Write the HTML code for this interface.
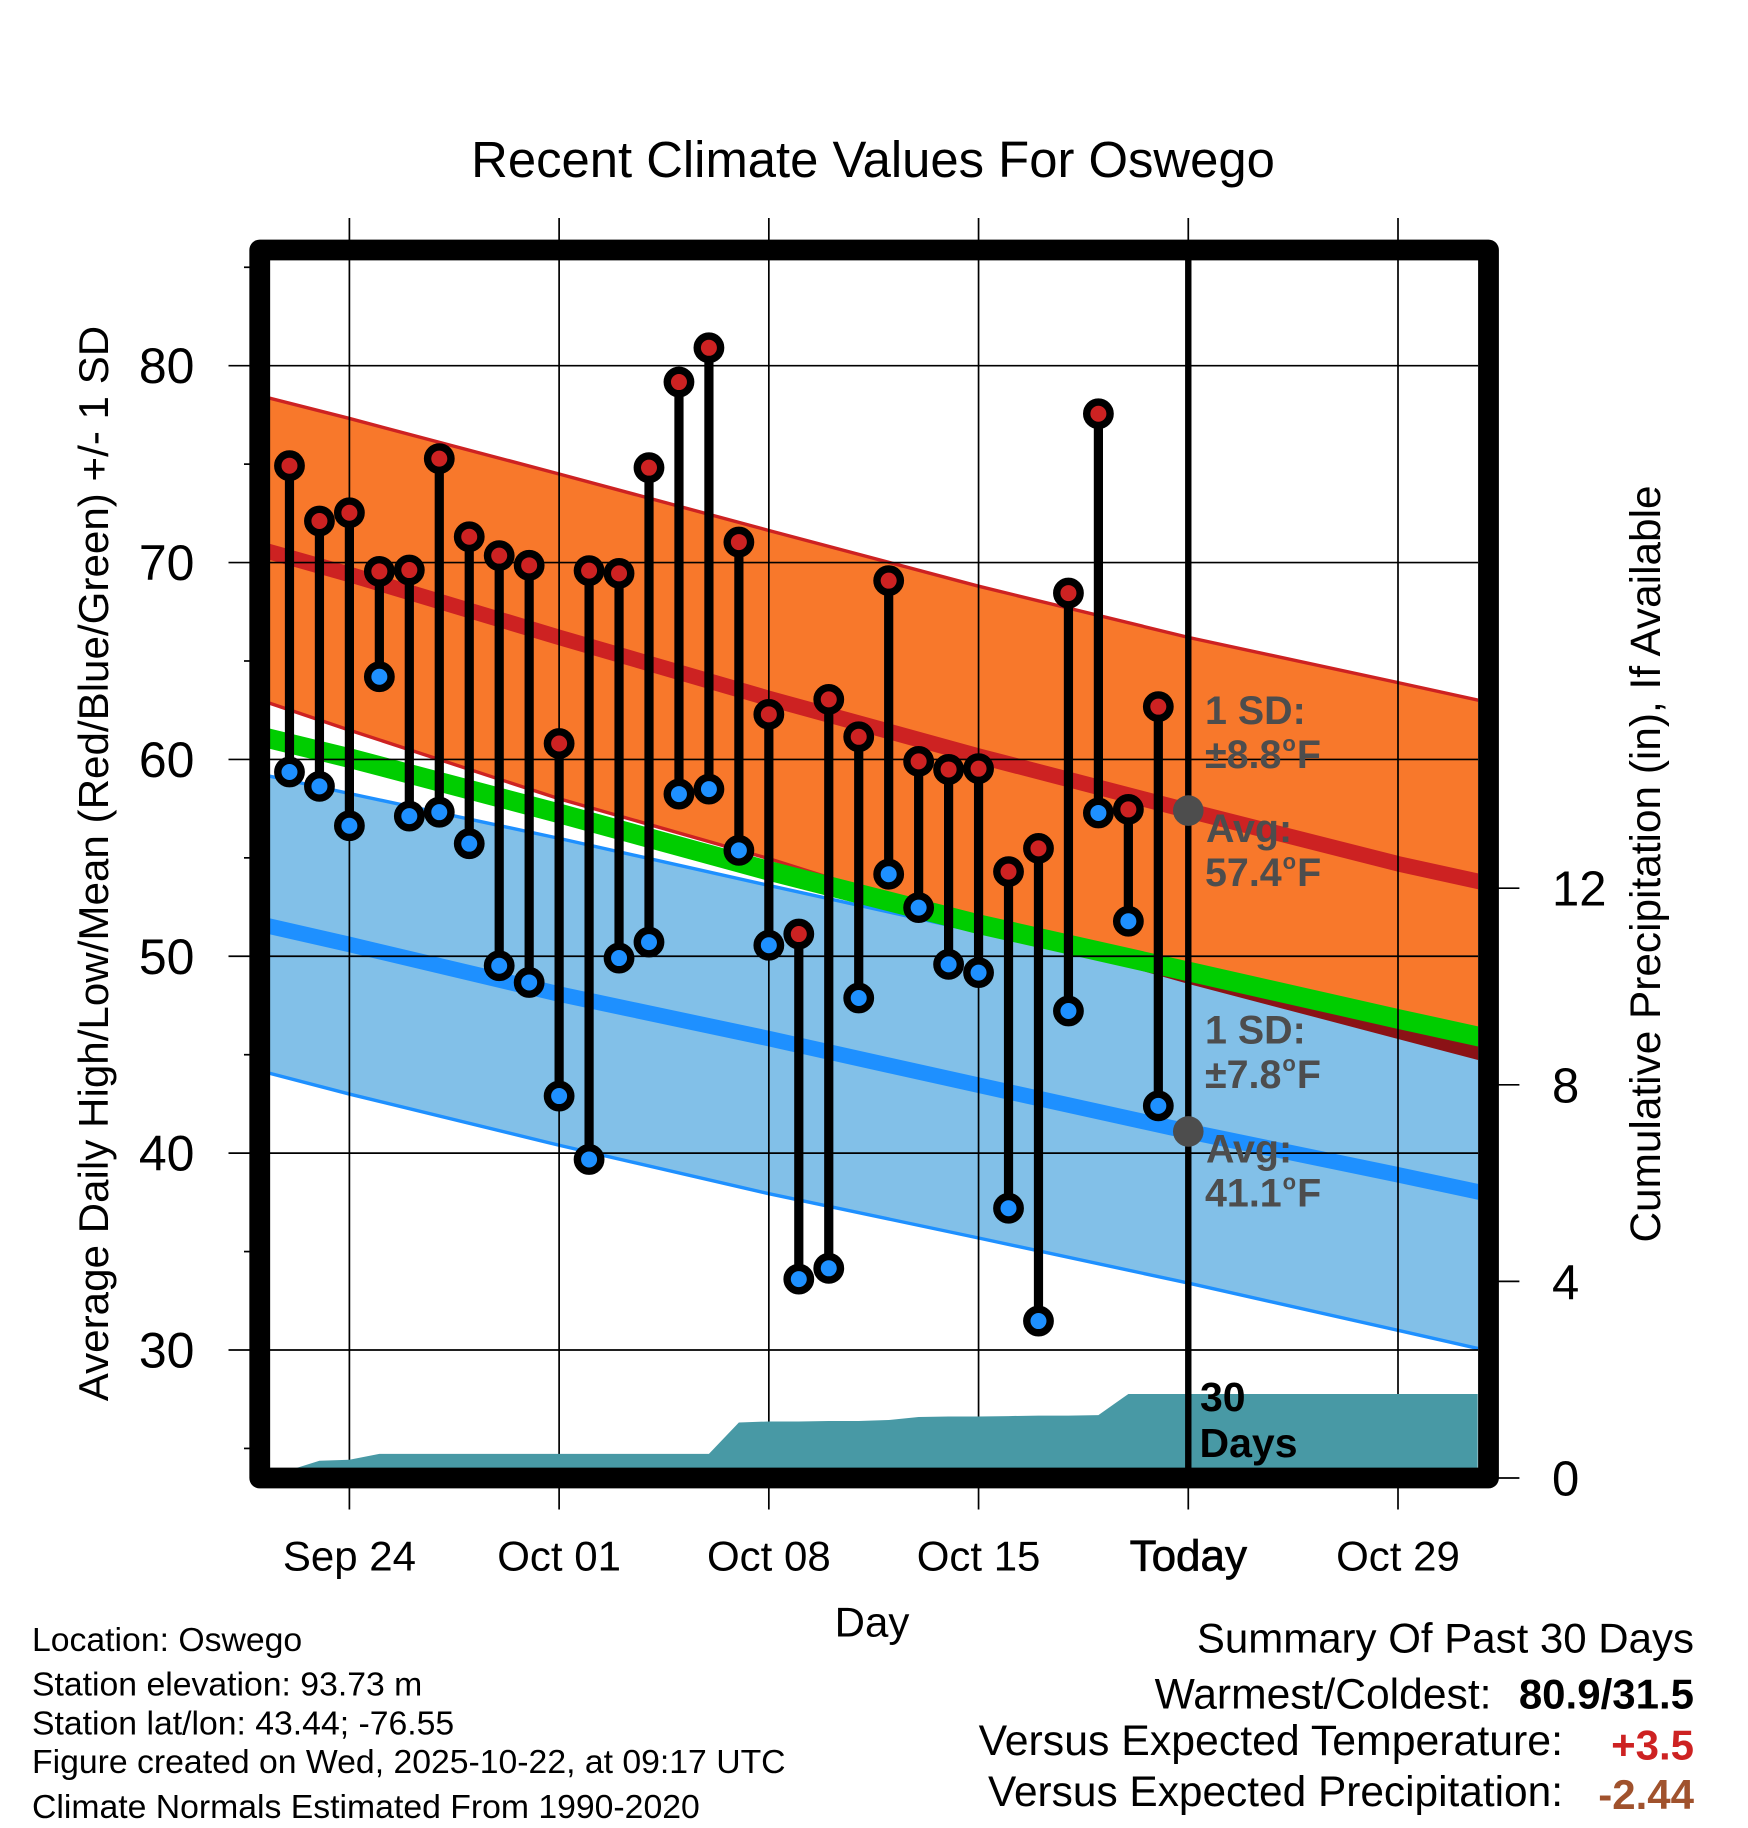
<!DOCTYPE html>
<html lang="en">
<head>
<meta charset="utf-8">
<title>Recent Climate Values For Oswego</title>
<style>
html,body{margin:0;padding:0;background:#fff;}
svg{display:block;font-family:"Liberation Sans",Arial,sans-serif;}
.anno{font-size:39.4px;font-weight:700;fill:#4d4d4d;}
.foot{font-size:33.75px;fill:#000;}
.sum{font-size:42px;fill:#000;text-anchor:end;}
.b{font-weight:700;}
</style>
</head>
<body>
<svg id="chart" xmlns="http://www.w3.org/2000/svg" width="1748" height="1828" viewBox="0 0 1748 1828">
  <defs>
    <clipPath id="plot-clip"><rect x="270" y="260" width="1208" height="1208"/></clipPath>
    <clipPath id="blue-clip"><polygon id="blue-clip-shape" points=""/></clipPath>
  </defs>
  <rect x="0" y="0" width="1748" height="1828" fill="#fff"/>
  <text x="873" y="177" font-size="50.8" text-anchor="middle">Recent Climate Values For Oswego</text>

  <g id="bands" clip-path="url(#plot-clip)"></g>
  <g id="grid"></g>
  <g id="precip" clip-path="url(#plot-clip)"></g>
  <g id="today"></g>
  <g id="obs"></g>
  <g id="avgdots"></g>

  <rect x="259.75" y="250" width="1228.75" height="1228" fill="none" stroke="#000" stroke-width="20.8" stroke-linejoin="round"/>
  <g id="axis-labels" font-size="50"></g>

  <text transform="translate(108,863.5) rotate(-90)" font-size="42.15" text-anchor="middle">Average Daily High/Low/Mean (Red/Blue/Green) +/- 1 SD</text>
  <text transform="translate(1660,864) rotate(-90)" font-size="42.35" text-anchor="middle">Cumulative Precipitation (in), If Available</text>
  <text x="872" y="1636.7" font-size="42" text-anchor="middle">Day</text>

  <text class="anno" x="1205" y="724">1 SD:</text>
  <text class="anno" x="1205" y="768">±8.8<tspan font-size="22" dx="1" dy="-17">o</tspan><tspan dx="1" dy="17">F</tspan></text>
  <text class="anno" x="1206" y="842">Avg:</text>
  <text class="anno" x="1205" y="886">57.4<tspan font-size="22" dx="1" dy="-17">o</tspan><tspan dx="1" dy="17">F</tspan></text>
  <text class="anno" x="1205" y="1043.7">1 SD:</text>
  <text class="anno" x="1205" y="1087.8">±7.8<tspan font-size="22" dx="1" dy="-17">o</tspan><tspan dx="1" dy="17">F</tspan></text>
  <text class="anno" x="1206" y="1162.4">Avg:</text>
  <text class="anno" x="1205" y="1206.4">41.1<tspan font-size="22" dx="1" dy="-17">o</tspan><tspan dx="1" dy="17">F</tspan></text>

  <text x="1200" y="1411" font-size="41" font-weight="700">30</text>
  <text x="1199.5" y="1457" font-size="41" font-weight="700">Days</text>

  <text class="foot" x="32" y="1651.2">Location: Oswego</text>
  <text class="foot" x="32" y="1695.5">Station elevation: 93.73 m</text>
  <text class="foot" x="32" y="1734.5">Station lat/lon: 43.44; -76.55</text>
  <text class="foot" x="32" y="1773.2">Figure created on Wed, 2025-10-22, at 09:17 UTC</text>
  <text class="foot" x="32" y="1817.8">Climate Normals Estimated From 1990-2020</text>

  <text class="sum" x="1694" y="1652.7">Summary Of Past 30 Days</text>
  <text class="sum" x="1491.5" y="1708.3" style="font-size:42.6px">Warmest/Coldest:</text>
  <text class="sum b" x="1694" y="1708.3">80.9/31.5</text>
  <text class="sum" x="1563" y="1755" style="font-size:42.8px">Versus Expected Temperature:</text>
  <text class="sum b" x="1694" y="1759.3" style="fill:#cd2222">+3.5</text>
  <text class="sum" x="1563" y="1806" style="font-size:42.4px">Versus Expected Precipitation:</text>
  <text class="sum b" x="1694" y="1809" style="fill:#a0522d">-2.44</text>
</svg>

<script>
// ---- Data ----
const dayLabels = ["Sep 22","Sep 23","Sep 24","Sep 25","Sep 26","Sep 27","Sep 28","Sep 29","Sep 30","Oct 01","Oct 02","Oct 03","Oct 04","Oct 05","Oct 06","Oct 07","Oct 08","Oct 09","Oct 10","Oct 11","Oct 12","Oct 13","Oct 14","Oct 15","Oct 16","Oct 17","Oct 18","Oct 19","Oct 20","Oct 21"];
const highs = [74.92,72.11,72.53,69.55,69.62,75.28,71.31,70.35,69.86,60.81,69.59,69.45,74.82,79.17,80.91,71.04,62.29,51.13,63.05,61.15,69.08,59.9,59.49,59.53,54.3,55.48,68.45,77.56,57.46,62.68];
const lows = [59.36,58.63,56.63,64.2,57.12,57.32,55.72,49.52,48.67,42.9,39.68,49.91,50.72,58.24,58.49,55.38,50.56,33.6,34.15,47.88,54.17,52.47,49.59,49.17,37.2,31.47,47.22,57.28,51.78,42.4];
const precip = [0.16,0.35,0.37,0.49,0.49,0.49,0.49,0.49,0.49,0.49,0.49,0.49,0.49,0.49,0.49,1.13,1.15,1.15,1.16,1.16,1.18,1.24,1.25,1.25,1.26,1.27,1.27,1.28,1.71,1.71];

const bandDays = [-1,2,9,16,23,30,37,40];
const highUpper = [78.48,77.32,74.5,71.63,68.8,66.2,63.9,62.9];
const highAvg = [70.69,69.4,66.2,63.1,60.17,57.4,54.7,53.7];
const highLower = [63.03,61.49,58.0,54.96,51.6,48.6,45.8,44.6];
const meanAvg = [61.18,60.07,57.26,54.34,51.63,49.23,46.82,45.82];
const lowUpper = [59.26,58.27,55.99,53.6,51.24,48.9,46.55,45.5];
const lowAvg = [51.64,50.6,48.08,45.82,43.45,41.1,38.9,37.93];
const lowLower = [44.19,43.0,40.4,37.94,35.69,33.4,31.0,29.96];

const xTickDays = [2,9,16,23,30,37];
const xTickLabels = ["Sep 24","Oct 01","Oct 08","Oct 15","Today","Oct 29"];
const yMajorTicks = [30,40,50,60,70,80];
const yMinorTicks = [25,35,45,55,65,75,85];
const precipTicks = [0,4,8,12];
const todayDay = [30];
const todayHighAvg = [57.4];
const todayLowAvg = [41.1];
const lastAxisDay = [39.66];

// ---- Axis functions ----
function xScale(day){ return 349.4 + (day - 2) * 29.96; }
function yScale(temp){ return 365.7 + (80 - temp) * 19.686; }
function pScale(inches){ return 1478 - inches * 49.15; }

const NS = "http://www.w3.org/2000/svg";
function make(parent, tag, attrs, text){
  const el = document.createElementNS(NS, tag);
  for (const k in attrs) el.setAttribute(k, attrs[k]);
  if (text !== undefined) el.textContent = text;
  parent.appendChild(el);
  return el;
}
function linePts(vals){ return bandDays.map((d,i)=>xScale(d).toFixed(2)+","+yScale(vals[i]).toFixed(2)).join(" "); }
function bandPts(top,bottom){
  const a = bandDays.map((d,i)=>xScale(d).toFixed(2)+","+yScale(top[i]).toFixed(2));
  const b = bandDays.map((d,i)=>xScale(d).toFixed(2)+","+yScale(bottom[i]).toFixed(2)).reverse();
  return a.concat(b).join(" ");
}

// ---- Bands ----
const bands = document.getElementById("bands");
document.getElementById("blue-clip-shape").setAttribute("points", bandPts(lowUpper, lowLower));

const orangeBand = make(bands,"polygon",{points:bandPts(highUpper,highLower),fill:"#f8782b"});



const highUpperLine = make(bands,"polyline",{points:linePts(highUpper),fill:"none",stroke:"#cd2222","stroke-width":3.4});



const highLowerLine = make(bands,"polyline",{points:linePts(highLower),fill:"none",stroke:"#cd2222","stroke-width":3.4});



const blueBand = make(bands,"polygon",{points:bandPts(lowUpper,lowLower),fill:"#82c0e8"});



const lowUpperLine = make(bands,"polyline",{points:linePts(lowUpper),fill:"none",stroke:"#1e90ff","stroke-width":3.4});



const lowLowerLine = make(bands,"polyline",{points:linePts(lowLower),fill:"none",stroke:"#1e90ff","stroke-width":3.4});



const overlap = make(bands,"polygon",{points:bandPts(highUpper,highLower),fill:"#8b1216","clip-path":"url(#blue-clip)"});



const highAvgLine = make(bands,"polyline",{points:linePts(highAvg),fill:"none",stroke:"#cd2222","stroke-width":15.5});



const lowAvgLine = make(bands,"polyline",{points:linePts(lowAvg),fill:"none",stroke:"#1e90ff","stroke-width":15.5});



const meanLine = make(bands,"polyline",{points:linePts(meanAvg),fill:"none",stroke:"#00cd00","stroke-width":19.6});



// ---- Grid and ticks ----
const grid = document.getElementById("grid");
xTickDays.forEach(function(d){
  const l = make(grid,"line",{x1:xScale(d),x2:xScale(d),y1:218,y2:1509.5,stroke:"#000","stroke-width":1.7});
  
  
});
yMajorTicks.forEach(function(v){
  const l = make(grid,"line",{x1:228.5,x2:1478,y1:yScale(v),y2:yScale(v),stroke:"#000","stroke-width":1.7});
  
  
});
yMinorTicks.forEach(function(v){
  const l = make(grid,"line",{x1:244,x2:252,y1:yScale(v),y2:yScale(v),stroke:"#000","stroke-width":1.7});
  
  
});
precipTicks.forEach(function(v){
  const l = make(grid,"line",{x1:1496,x2:1519.4,y1:pScale(v),y2:pScale(v),stroke:"#000","stroke-width":1.7});
  
  
});

// ---- Precipitation ----
const precipLayer = document.getElementById("precip");
const precipPts = [xScale(0).toFixed(2)+","+pScale(0)];
precip.forEach(function(p,i){ precipPts.push(xScale(i).toFixed(2)+","+pScale(p).toFixed(2)); });
precipPts.push(xScale(lastAxisDay[0]).toFixed(2)+","+pScale(precip[precip.length-1]).toFixed(2));
precipPts.push(xScale(lastAxisDay[0]).toFixed(2)+","+pScale(0));
const precipArea = make(precipLayer,"polygon",{points:precipPts.join(" "),fill:"#4899a5"});



// ---- Today line ----
const todayLayer = document.getElementById("today");
const todayLine = make(todayLayer,"line",{x1:xScale(todayDay[0]),x2:xScale(todayDay[0]),y1:250,y2:1478,stroke:"#000","stroke-width":6.4});



// ---- Daily observations ----
const obs = document.getElementById("obs");
highs.forEach(function(h,i){
  const s = make(obs,"line",{x1:xScale(i),x2:xScale(i),y1:yScale(h),y2:yScale(lows[i]),stroke:"#000","stroke-width":9.2});
  
  
});
lows.forEach(function(v,i){
  const c = make(obs,"circle",{cx:xScale(i),cy:yScale(v),r:11.7,fill:"#1e90ff",stroke:"#000","stroke-width":7.4});
  
  
  make(c,"title",{},dayLabels[i]+" low "+v);
});
highs.forEach(function(v,i){
  const c = make(obs,"circle",{cx:xScale(i),cy:yScale(v),r:11.7,fill:"#cd2222",stroke:"#000","stroke-width":7.4});
  
  
  make(c,"title",{},dayLabels[i]+" high "+v);
});

// ---- Today averages ----
const avgDots = document.getElementById("avgdots");
const hiDot = make(avgDots,"circle",{cx:xScale(todayDay[0]),cy:yScale(todayHighAvg[0]),r:15.3,fill:"#4d4d4d"});


const loDot = make(avgDots,"circle",{cx:xScale(todayDay[0]),cy:yScale(todayLowAvg[0]),r:15.3,fill:"#4d4d4d"});



// ---- Tick labels ----
const labels = document.getElementById("axis-labels");
yMajorTicks.forEach(function(v){
  const t = make(labels,"text",{x:194.5,y:yScale(v)+17.5,"text-anchor":"end"},String(v));
  
  
});
precipTicks.forEach(function(v){
  const t = make(labels,"text",{x:1552,y:pScale(v)+17.5,"font-size":49},String(v));
  
  
});
xTickLabels.forEach(function(s,i){
  const attrs = {x:xScale(xTickDays[i]),y:1570.7,"text-anchor":"middle","font-size":42};
  if (s === "Today"){ attrs.stroke = "#000"; attrs["stroke-width"] = 0.7; attrs["font-size"] = 44; }
  const t = make(labels,"text",attrs,s);
  
  
});
</script>
</body>
</html>
